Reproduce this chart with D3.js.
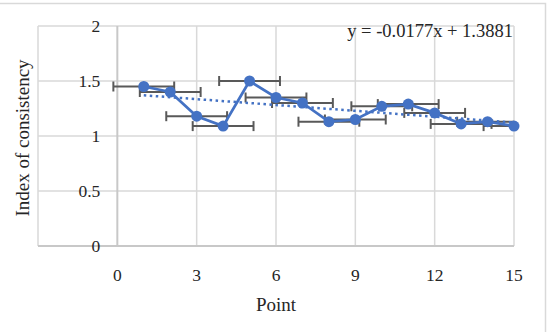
<!DOCTYPE html>
<html>
<head>
<meta charset="utf-8">
<script src="https://unpkg.com/d3@7/dist/d3.min.js"></script>
<style>
  body { margin: 0; background: #fff; }
  text { font-family: "Liberation Serif", "DejaVu Serif", serif; fill: #262626; }
</style>
</head>
<body>
<div class="chart"></div>
<script>
// data
const points = [1, 2, 3, 4, 5, 6, 7, 8, 9, 10, 11, 12, 13, 14, 15];
const consistency = [1.45, 1.40, 1.18, 1.09, 1.50, 1.35, 1.30, 1.13, 1.15, 1.27, 1.29, 1.21, 1.11, 1.13, 1.09];
const xError = [1.15, 1.15, 1.15, 1.15, 1.15, 1.15, 1.15, 1.15, 1.15, 1.15, 1.15, 1.15, 1.15, 1.15, 1.15];
const xTicks = [0, 3, 6, 9, 12, 15];
const yTicks = [0, 0.5, 1, 1.5, 2];
const trend = { slope: -0.0177, intercept: 1.3881 };
const equation = "y = -0.0177x + 1.3881";

const width = 550, height = 332;
const plot = { left: 38, right: 514, top: 26, bottom: 246 };

const svg = d3.select(".chart").append("svg")
  .attr("width", width)
  .attr("height", height);

// frame of the chart
svg.append("path")
  .attr("d", "M0,3.5H545.5V332")
  .attr("fill", "none")
  .attr("stroke", "#d9d9d9")
  .attr("stroke-width", 1.5);

let xScale = d3.scaleLinear().domain([-3, 15]).range([plot.left, plot.right]);
let yScale = d3.scaleLinear().domain([0, 2]).range([plot.bottom, plot.top]);

svg.append("clipPath").attr("id", "plotclip")
  .append("rect")
  .attr("x", plot.left).attr("y", plot.top - 10)
  .attr("width", plot.right - plot.left).attr("height", plot.bottom - plot.top + 20);

// gridlines
svg.append("g").selectAll("line")
  .data(yTicks.filter(d => d > 0))
  .join("line")
  .attr("x1", plot.left).attr("x2", plot.right)
  .attr("y1", d => yScale(d)).attr("y2", d => yScale(d))
  .attr("stroke", "#d9d9d9").attr("stroke-width", 1.5);

svg.append("g").selectAll("line")
  .data([-3].concat(xTicks.filter(d => d !== 0)))
  .join("line")
  .attr("x1", d => xScale(d)).attr("x2", d => xScale(d))
  .attr("y1", plot.top).attr("y2", plot.bottom)
  .attr("stroke", "#d9d9d9").attr("stroke-width", 1.5);

// axis lines
svg.append("line")
  .attr("x1", plot.left).attr("x2", plot.right)
  .attr("y1", yScale(0)).attr("y2", yScale(0))
  .attr("stroke", "#c8c8c8").attr("stroke-width", 2);
svg.append("line")
  .attr("x1", xScale(0)).attr("x2", xScale(0))
  .attr("y1", plot.top).attr("y2", plot.bottom)
  .attr("stroke", "#c8c8c8").attr("stroke-width", 2);

// tick labels
svg.append("g").selectAll("text")
  .data(yTicks)
  .join("text")
  .attr("x", xScale(0) - 17)
  .attr("y", d => yScale(d))
  .attr("dy", "0.35em")
  .attr("text-anchor", "end")
  .attr("font-size", "17.5px")
  .text(d => d);

svg.append("g").selectAll("text")
  .data(xTicks)
  .join("text")
  .attr("x", d => xScale(d))
  .attr("y", 281)
  .attr("text-anchor", "middle")
  .attr("font-size", "17.5px")
  .text(d => d);

// axis titles
svg.append("text")
  .attr("transform", "translate(29,138) rotate(-90)")
  .attr("text-anchor", "middle")
  .attr("font-size", "19px")
  .text("Index of consistency");

svg.append("text")
  .attr("x", (plot.left + plot.right) / 2).attr("y", 311)
  .attr("text-anchor", "middle")
  .attr("font-size", "19px")
  .text("Point");

const data = points.map((p, i) => ({ x: p, y: consistency[i], e: xError[i] }));

// error bars (clipped to plot area)
const err = svg.append("g").attr("clip-path", "url(#plotclip)");
err.selectAll(".bar")
  .data(data)
  .join("line")
  .attr("class", "bar")
  .attr("x1", d => xScale(d.x - d.e)).attr("x2", d => xScale(d.x + d.e))
  .attr("y1", d => yScale(d.y)).attr("y2", d => yScale(d.y))
  .attr("stroke", "#595959").attr("stroke-width", 2);
err.selectAll(".capl")
  .data(data)
  .join("line")
  .attr("class", "capl")
  .attr("x1", d => xScale(d.x - d.e)).attr("x2", d => xScale(d.x - d.e))
  .attr("y1", d => yScale(d.y) - 5).attr("y2", d => yScale(d.y) + 5)
  .attr("stroke", "#595959").attr("stroke-width", 2);
err.selectAll(".capr")
  .data(data)
  .join("line")
  .attr("class", "capr")
  .attr("x1", d => xScale(d.x + d.e)).attr("x2", d => xScale(d.x + d.e))
  .attr("y1", d => yScale(d.y) - 5).attr("y2", d => yScale(d.y) + 5)
  .attr("stroke", "#595959").attr("stroke-width", 2);

// linear trendline
const tx = d3.extent(points);
svg.append("line")
  .attr("x1", xScale(tx[0])).attr("x2", xScale(tx[1]))
  .attr("y1", yScale(trend.intercept + trend.slope * tx[0]))
  .attr("y2", yScale(trend.intercept + trend.slope * tx[1]))
  .attr("stroke", "#4472c4").attr("stroke-width", 2.5)
  .attr("stroke-dasharray", "2.5,3.5");

// series line + markers
const line = d3.line().x(d => xScale(d.x)).y(d => yScale(d.y));
svg.append("path")
  .datum(data)
  .attr("d", line)
  .attr("fill", "none")
  .attr("stroke", "#4472c4")
  .attr("stroke-width", 2.75);

svg.append("g").selectAll("circle")
  .data(data)
  .join("circle")
  .attr("cx", d => xScale(d.x))
  .attr("cy", d => yScale(d.y))
  .attr("r", 5.5)
  .attr("fill", "#4472c4");

// trendline equation
svg.append("text")
  .attr("x", 513).attr("y", 37)
  .attr("text-anchor", "end")
  .attr("font-size", "18.5px")
  .text(equation);
</script>
</body>
</html>
